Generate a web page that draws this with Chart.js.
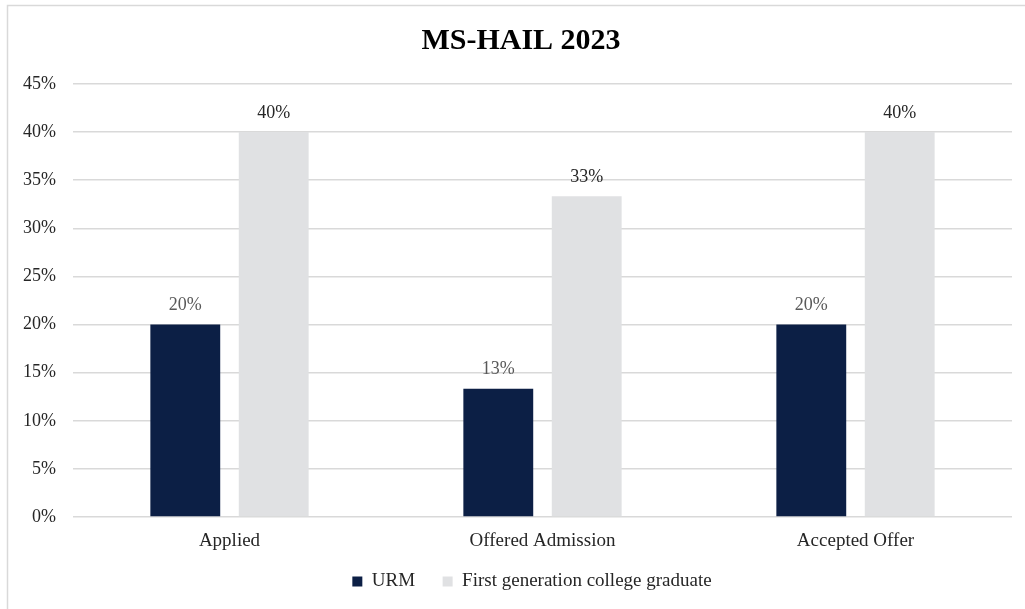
<!DOCTYPE html>
<html>
<head>
<meta charset="utf-8">
<script src="https://cdn.jsdelivr.net/npm/chart.js@4.4.1/dist/chart.umd.min.js"></script>
<style>
html,body{margin:0;padding:0;background:#fff;}
#wrap{position:absolute;left:0;top:0;width:1025px;height:609px;}
</style>
</head>
<body>
<div id="wrap"><canvas id="c" width="1025" height="609"></canvas></div>
<script>
const categories = ["Applied", "Offered Admission", "Accepted Offer"];
const urmValues = [20, 13.33, 20];
const firstGenValues = [40, 33.33, 40];
const seriesNames = ["URM", "First generation college graduate"];
const yTicks = [0, 5, 10, 15, 20, 25, 30, 35, 40, 45];

const FONT = "'Liberation Serif', 'DejaVu Serif', serif";

const frame = {
  id: 'frame',
  beforeDraw(chart) {
    const ctx = chart.ctx;
    ctx.save();
    ctx.fillStyle = '#fff';
    ctx.fillRect(0, 0, chart.width, chart.height);
    ctx.strokeStyle = '#d9d9d9';
    ctx.lineWidth = 1.5;
    ctx.strokeRect(7.5, 5.5, 1030, 620);
    ctx.restore();
  }
};

const boxShift = {
  id: 'boxShift',
  afterLayout(chart) {
    if (chart.legend) chart.legend.left += 52;
    if (chart.titleBlock) chart.titleBlock.left += 30;
  }
};

const valueLabels = {
  id: 'valueLabels',
  afterDatasetsDraw(chart) {
    const ctx = chart.ctx;
    ctx.save();
    ctx.font = '18px ' + FONT;
    ctx.textAlign = 'center';
    ctx.textBaseline = 'bottom';
    chart.data.datasets.forEach((ds, i) => {
      const meta = chart.getDatasetMeta(i);
      ctx.fillStyle = i === 0 ? '#595959' : '#262626';
      meta.data.forEach((bar, j) => {
        ctx.fillText(Math.round(ds.data[j]) + '%', bar.x, bar.y - 10);
      });
    });
    ctx.restore();
  }
};

new Chart(document.getElementById('c'), {
  type: 'bar',
  data: {
    labels: categories,
    datasets: [
      { label: seriesNames[0], data: urmValues, backgroundColor: '#0c1f45', borderWidth: 0,
        categoryPercentage: 0.565, barPercentage: 0.79 },
      { label: seriesNames[1], data: firstGenValues, backgroundColor: '#e0e1e3', borderWidth: 0,
        categoryPercentage: 0.565, barPercentage: 0.79 }
    ]
  },
  options: {
    responsive: false,
    animation: false,
    devicePixelRatio: 1,
    layout: { padding: { left: 0, right: 13, top: 2, bottom: 8 } },
    plugins: {
      title: {
        display: true, text: 'MS-HAIL 2023', color: '#000',
        font: { family: FONT, size: 30, weight: 'bold' },
        padding: { top: 21, bottom: 25 }
      },
      legend: {
        position: 'bottom',
        labels: {
          color: '#262626',
          font: { family: FONT, size: 19 },
          boxWidth: 10, boxHeight: 10, padding: 18,
          generateLabels(chart) {
            const items = Chart.defaults.plugins.legend.labels.generateLabels(chart);
            items.forEach((it, i) => { if (i === 0) it.text = it.text + '\u00a0\u00a0'; });
            return items;
          }
        }
      },
      tooltip: { enabled: false }
    },
    scales: {
      x: {
        grid: { display: false, drawTicks: false },
        border: { display: false },
        ticks: { color: '#262626', font: { family: FONT, size: 19 }, padding: 13 },
        afterFit(s) { s.height = 37; }
      },
      y: {
        min: 0, max: 45,
        afterBuildTicks(s) { s.ticks = yTicks.map(v => ({ value: v })); },
        grid: { color: '#d9d9d9', lineWidth: 1.5, drawTicks: false },
        border: { display: false },
        ticks: { color: '#262626', font: { family: FONT, size: 18 }, padding: 17,
                 callback: v => v + '%' },
        afterFit(s) { s.width = 73; }
      }
    }
  },
  plugins: [frame, boxShift, valueLabels]
});
</script>
</body>
</html>
